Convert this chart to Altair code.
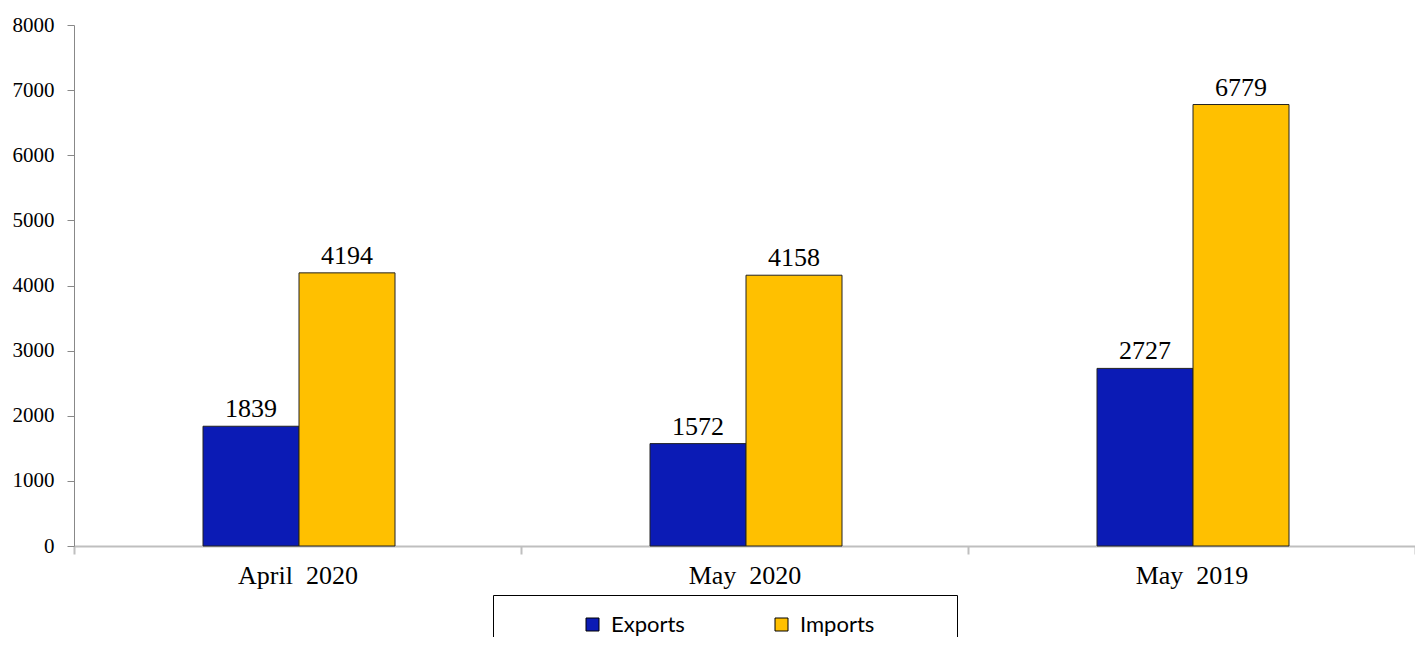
import altair as alt
import pandas as pd

periods = ["April 2020", "May 2020", "May 2019"]
series = ["Exports", "Imports"]
exports = [1839, 1572, 2727]
imports = [4194, 4158, 6779]
colors = ["#0B1BB5", "#FFC000"]
y_ticks = [0, 1000, 2000, 3000, 4000, 5000, 6000, 7000, 8000]

rows = []
for p, e, i in zip(periods, exports, imports):
    rows.append({"period": p, "series": series[0], "value": e})
    rows.append({"period": p, "series": series[1], "value": i})
df = pd.DataFrame(rows)

W, H = 1341, 521
step = W / 3
bar_w = 96

x_enc = alt.X(
    "period:N",
    sort=periods,
    scale=alt.Scale(paddingInner=0, paddingOuter=0),
    axis=alt.Axis(
        title=None,
        labelAngle=0,
        tickBand="extent",
        labelExpr="replace(datum.label, ' ', '\u00a0 ')",
        domainColor="#BFBFBF",
        domainWidth=2,
        tickColor="#BFBFBF",
        tickWidth=2,
        tickSize=8,
        labelFont="Liberation Serif",
        labelFontSize=26,
        labelColor="black",
        labelPadding=8,
        grid=False,
    ),
)
xoff = alt.XOffset(
    "series:N",
    sort=series,
    scale=alt.Scale(paddingInner=0, paddingOuter=0, range=[step / 2 - bar_w + 1.5, step / 2 + bar_w + 1.5]),
)
y_enc = alt.Y(
    "value:Q",
    scale=alt.Scale(domain=[0, 8000], nice=False),
    axis=alt.Axis(
        title=None,
        values=y_ticks,
        format="d",
        domainColor="#888888",
        domainWidth=1,
        tickColor="#888888",
        tickSize=7,
        labelFont="Liberation Serif",
        labelFontSize=21,
        labelColor="black",
        labelPadding=13,
        grid=False,
    ),
)

bars = alt.Chart(df).mark_bar(stroke="#222222", strokeWidth=1).encode(
    x=x_enc,
    xOffset=xoff,
    y=y_enc,
    color=alt.Color(
        "series:N",
        scale=alt.Scale(domain=series, range=colors),
        legend=alt.Legend(
            title=None,
            orient="none",
            legendX=419,
            legendY=570,
            direction="horizontal",
            strokeColor="black",
            fillColor="white",
            padding=18.5,
            symbolType="square",
            symbolSize=169,
            symbolStrokeColor="black",
            symbolStrokeWidth=1,
            symbolOffset=70,
            labelOffset=7.5,
            labelFont="Lato",
            labelFontSize=22,
            labelColor="black",
            labelLimit=400,
            columnPadding=15,
            labelExpr="datum.label == 'Imports' ? 'Imports\u2800\u2800\u2800\u2800' : datum.label",
        ),
    ),
)

labels = alt.Chart(df).mark_text(
    dy=-9, baseline="alphabetic", font="Liberation Serif", fontSize=26, color="black"
).encode(x=x_enc, xOffset=xoff, y=y_enc, text="value:Q")

chart = (
    alt.layer(bars, labels)
    .properties(
        width=W,
        height=H,
        padding={"left": 66, "top": 17, "right": 0, "bottom": 91},
        autosize=alt.AutoSizeParams(type="none"),
    )
    .configure_view(stroke=None)
)

chart.save("out.html", embed_options={"renderer": "svg", "actions": False})
